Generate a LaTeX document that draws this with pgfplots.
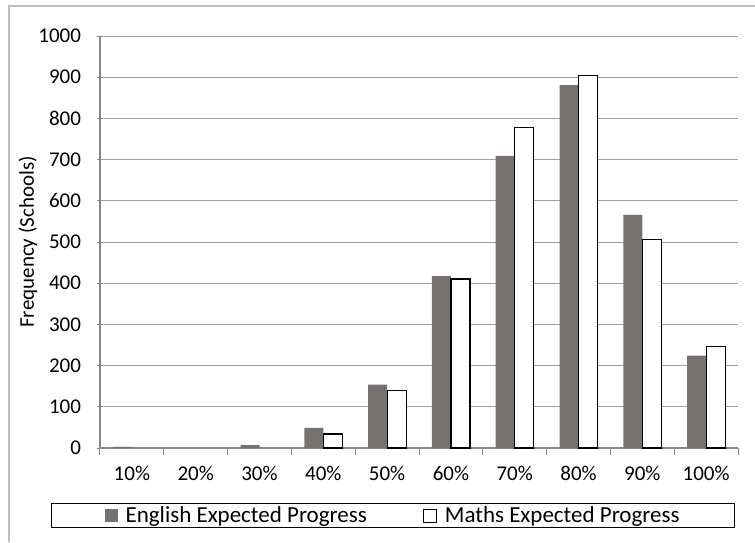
\documentclass[border=0pt]{standalone}
\usepackage{fontspec}
\setmainfont{Carlito}
\usepackage{pgfplots}
\pgfplotsset{compat=1.18}
\definecolor{engl}{RGB}{118,113,113}
\definecolor{axgray}{RGB}{134,134,134}
\definecolor{gridgray}{RGB}{160,160,160}
\definecolor{framegray}{RGB}{190,190,190}
\begin{document}
\begin{tikzpicture}[x=1pt,y=1pt,font=\fontsize{21}{25}\selectfont]
\useasboundingbox (0,0) rectangle (755,542);
\draw[framegray, line width=1.5pt] (9,0) -- (9,536) -- (755,536);
\begin{axis}[
    at={(100pt,94pt)}, anchor=south west,
    scale only axis, width=638pt, height=412pt,
    ymin=0, ymax=1000, ytick={0,100,...,1000},
    xmin=-0.5, xmax=9.5,
    xtick={0,...,9},
    xticklabels={10\%,20\%,30\%,40\%,50\%,60\%,70\%,80\%,90\%,100\%},
    minor xtick={-0.5,0.5,...,9.5},
    every major x tick/.append style={draw=none},
    tick align=outside,
    major tick length=5pt, minor tick length=7pt,
    tick style={axgray, line width=1pt},
    axis x line=bottom, axis y line=left,
    axis line style={-, axgray, line width=1.2pt},
    ymajorgrids, grid style={gridgray, line width=1pt},
    /pgf/number format/assume math mode=true,
    /pgf/number format/1000 sep={},
    yticklabel style={xshift=-13pt},
    xticklabel style={yshift=-10pt},
    ylabel={Frequency (Schools)},
    ylabel style={at={(axis description cs:-0.113,0.5)}, anchor=center},
    ybar=0pt, bar width=19pt,
    legend columns=2,
    legend cell align=left,
    legend style={at={(-0.0768,0)}, anchor=west, yshift=-67.5pt,
        font=\fontsize{23}{27}\selectfont,
        draw=black, line width=1.2pt, inner xsep=53pt, inner ysep=1pt,
        /tikz/every even column/.append style={column sep=54pt}},
]
\addplot[fill=engl, draw=none,
    legend image code/.code={\fill[engl] (0pt,-6.5pt) rectangle (13pt,6.5pt);
        \path (19pt,0pt);}]
    coordinates {(0,3) (2,7) (3,49) (4,154) (5,417) (6,709) (7,881) (8,566) (9,224)};
\addplot[fill=white, draw=black, line width=1.2pt,
    legend image code/.code={\draw[black, fill=white, line width=0.8pt] (0pt,-6.5pt) rectangle (13pt,6.5pt);
        \path (19pt,0pt);}]
    coordinates {(3,34) (4,139) (5,410) (6,777) (7,904) (8,507) (9,246)};
\legend{English Expected Progress, Maths Expected Progress}
\end{axis}
\end{tikzpicture}
\end{document}
